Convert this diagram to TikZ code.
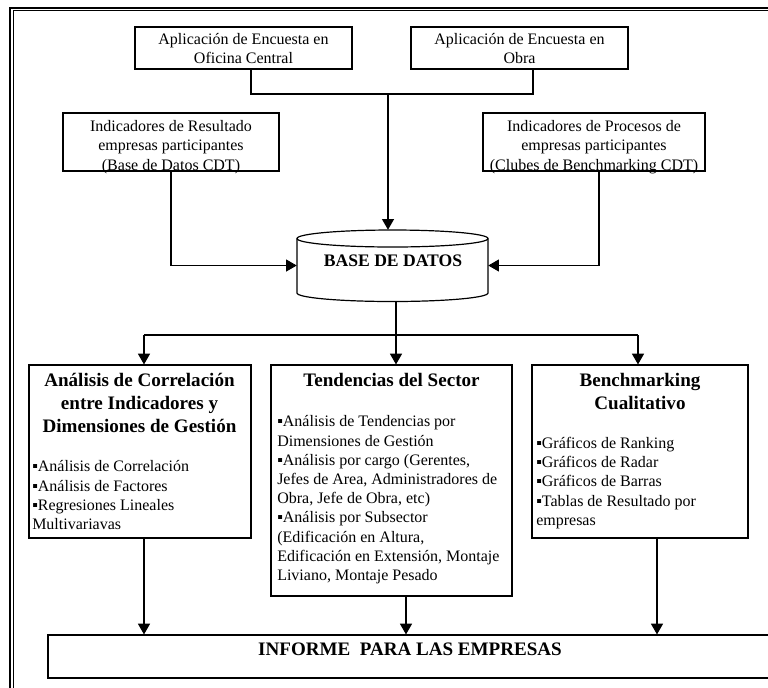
\documentclass[tikz,border=0pt]{standalone}
\usepackage{fontspec}
\setmainfont{Liberation Serif}
\usetikzlibrary{arrows.meta}
\begin{document}
\begin{tikzpicture}[x=0.75pt,y=-0.75pt,
  box/.style={draw,line width=0.9pt,inner sep=0pt},
  ghost/.style={inner sep=0pt},
  conn/.style={line width=0.8pt},
  arr/.style={conn,-{Triangle[length=8pt,width=9pt]}},
  txt/.style={inner sep=0pt,font=\fontsize{12}{14.4}\selectfont},
  hdr/.style={inner sep=0pt,font=\fontsize{14.3}{17.25}\selectfont\bfseries,align=center,anchor=north},
]
\useasboundingbox (0,0) rectangle (768,687);
\clip (0,0) rectangle (768,687);
% page frame
\draw[line width=1.5pt] (10,700) -- (10,7.7) -- (780,7.7);
\draw[line width=0.75pt] (13,700) -- (13,10.7) -- (780,10.7);

% boxes
\node[box,minimum width=217*0.75pt,minimum height=42*0.75pt] (ofc) at (243.5,48) {};
\node[box,minimum width=217*0.75pt,minimum height=42*0.75pt] (obra) at (519.5,48) {};
\node[box,minimum width=216*0.75pt,minimum height=58*0.75pt] (res) at (171,142) {};
\node[box,minimum width=222*0.75pt,minimum height=58*0.75pt] (proc) at (594,142) {};
\node[ghost,minimum width=191*0.75pt,minimum height=71*0.75pt] (db) at (392.5,265.5) {};
\node[box,minimum width=222*0.75pt,minimum height=173*0.75pt] (b1) at (140,451.5) {};
\node[box,minimum width=241*0.75pt,minimum height=231*0.75pt] (b2) at (391.5,480.5) {};
\node[box,minimum width=216*0.75pt,minimum height=173*0.75pt] (b3) at (640,451.5) {};
\node[box,minimum width=724*0.75pt,minimum height=43*0.75pt] (inf) at (410,656.5) {};

% cylinder
\draw[line width=0.9pt] (392.5,238.5) ellipse [x radius=71.625pt, y radius=6.375pt];
\draw[line width=0.9pt] (297,238.5) -- (297,293)
  .. controls (297,297.7) and (339.76,301.5) .. (392.5,301.5)
  .. controls (445.24,301.5) and (488,297.7) .. (488,293) -- (488,238.5);

% texts
\node[txt,align=center,anchor=north] (tofc) at (243.5,29.8)
  {\rule{0pt}{11pt}Aplicación de Encuesta en\\Oficina Central};
\node[txt,align=center,anchor=north] (tobra) at (519.5,29.8)
  {\rule{0pt}{11pt}Aplicación de Encuesta en\\Obra};
\node[txt,align=center,anchor=north] (tres) at (171,116.8)
  {\rule{0pt}{11pt}Indicadores de Resultado\\empresas participantes\\(Base de Datos CDT)};
\node[txt,align=center,anchor=north] (tproc) at (594,116.8)
  {\rule{0pt}{11pt}Indicadores de Procesos de\\empresas participantes\\(Clubes de Benchmarking CDT)};
\node[inner sep=0pt,anchor=base,font=\fontsize{13.2}{15}\selectfont\bfseries] (tdb) at (393,266.7) {BASE DE DATOS};

\node[hdr] (h1) at (139.5,368.7)
  {\rule{0pt}{13pt}Análisis de Correlación\\entre Indicadores y\\Dimensiones de Gestión};
\node[txt,align=left,anchor=north west] (l1) at (32,457.0)
  {\rule{0pt}{11pt}▪Análisis de Correlación\\▪Análisis de Factores\\▪Regresiones Lineales\\Multivariavas};

\node[hdr] (h2) at (391.5,368.7) {\rule{0pt}{13pt}Tendencias del Sector};
\node[txt,align=left,anchor=north west] (l2) at (277,412.0)
  {\rule{0pt}{11pt}▪Análisis de Tendencias por\\Dimensiones de Gestión\\▪Análisis por cargo (Gerentes,\\Jefes de Area, Administradores de\\Obra, Jefe de Obra, etc)\\▪Análisis por Subsector\\(Edificación en Altura,\\Edificación en Extensión, Montaje\\Liviano, Montaje Pesado};

\node[hdr] (h3) at (640,368.7) {\rule{0pt}{13pt}Benchmarking\\Cualitativo};
\node[txt,align=left,anchor=north west] (l3) at (536,433.6)
  {\rule{0pt}{11pt}▪Gráficos de Ranking\\▪Gráficos de Radar\\▪Gráficos de Barras\\▪Tablas de Resultado por\\empresas};

\node[inner sep=0pt,anchor=base,font=\fontsize{14.3}{17}\selectfont\bfseries] (tinf) at (410,655) {INFORME\ \ PARA LAS EMPRESAS};

% junction coordinates
\coordinate (jl) at (251,94);
\coordinate (jr) at (533,94);
\coordinate (jt) at (388,94);
\coordinate (rl) at (171,266);
\coordinate (rr) at (599,266);
\coordinate (jb) at (396,335);
\coordinate (jL) at (144,335);
\coordinate (jR) at (638,335);
\coordinate (o1) at (144,600);
\coordinate (o2) at (406,600);
\coordinate (o3) at (657,600);

% connectors
\draw[conn] (ofc.south -| jl) -- (jl) -- (jr) -- (obra.south -| jr);
\draw[arr] (jt) -- (db.north -| jt);
\draw[arr] (res.south -| rl) |- (db.west);
\draw[arr] (proc.south -| rr) |- (db.east);
\draw[conn] (db.south -| jb) -- (jb);
\draw[conn] (jL) -- (jR);
\draw[arr] (jL) -- (b1.north -| jL);
\draw[arr] (jb) -- (b2.north -| jb);
\draw[arr] (jR) -- (b3.north -| jR);
\draw[arr] (b1.south -| o1) -- (inf.north -| o1);
\draw[arr] (b2.south -| o2) -- (inf.north -| o2);
\draw[arr] (b3.south -| o3) -- (inf.north -| o3);
\end{tikzpicture}
\end{document}
